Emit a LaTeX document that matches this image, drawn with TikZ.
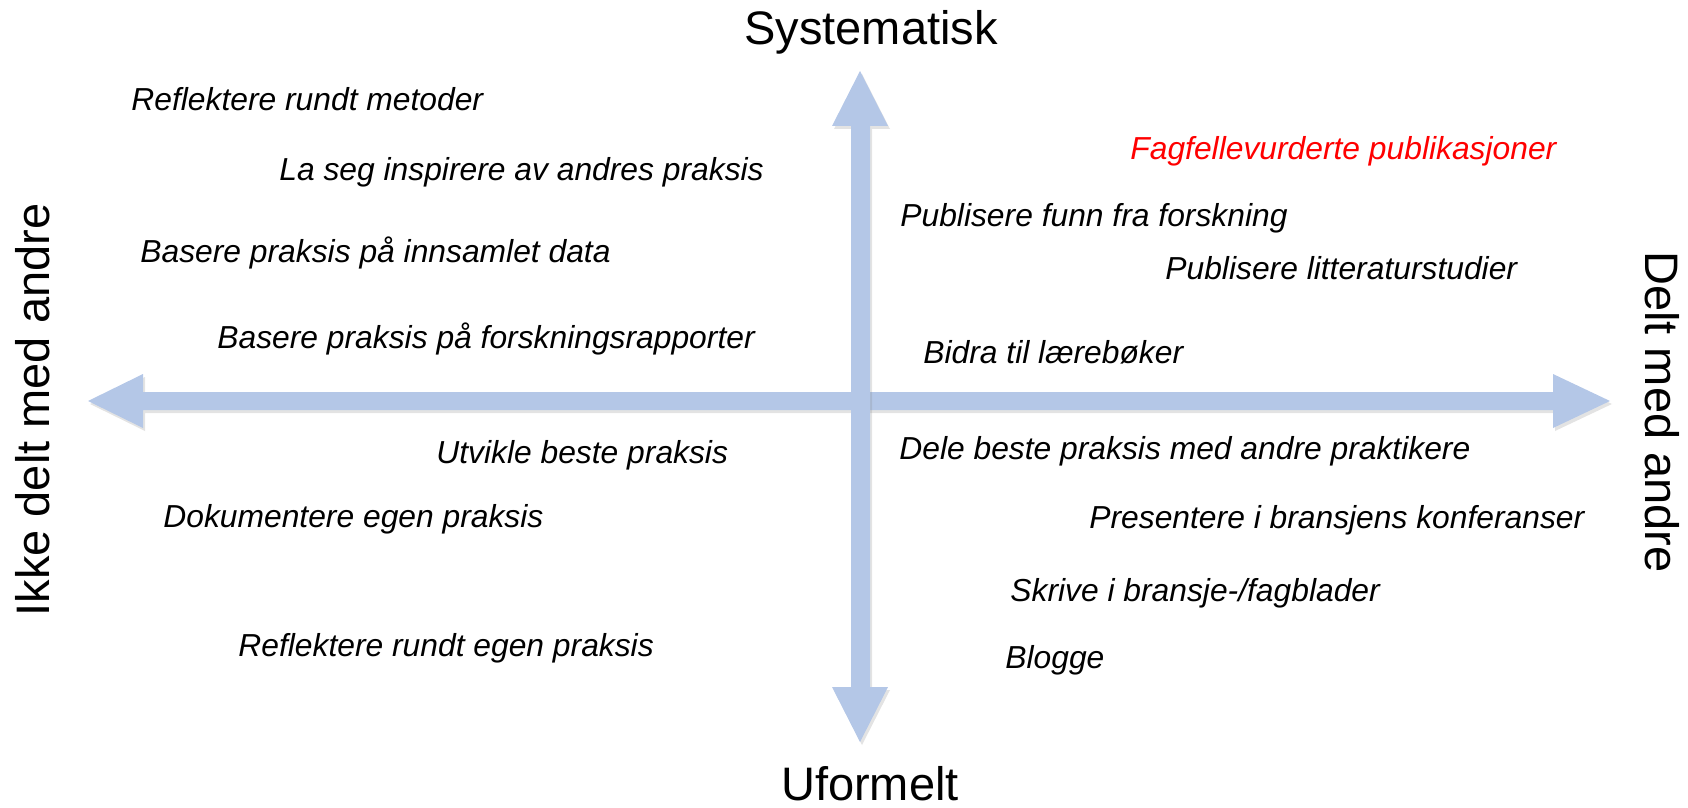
\documentclass[tikz,border=0pt]{standalone}
\usepackage{fontspec}
\setmainfont{Liberation Sans}
\usepackage{tikz}
\usetikzlibrary{shadows}

\definecolor{axisblue}{HTML}{B4C7E7}
\definecolor{pubred}{HTML}{FF0000}

\tikzset{
  axis/.style={fill=axisblue, drop shadow={shadow xshift=1pt, shadow yshift=-1.5pt, opacity=0.22}},
  pole/.style={font=\fontsize{23.5}{28}\selectfont, inner sep=0},
  item/.style={font=\fontsize{15.9}{19}\selectfont\itshape, inner sep=0, anchor=base west}
}

\begin{document}
\begin{tikzpicture}[x=0.5pt,y=-0.5pt]
\useasboundingbox (0,0) rectangle (1688,808);
\fill[axis] (88,401) -- (143,374) -- (143,392) -- (1553,392) -- (1553,374) -- (1610,401)
  -- (1553,428) -- (1553,410) -- (143,410) -- (143,428) -- cycle;
\fill[axis] (860,71) -- (888,126) -- (870,126) -- (870,687) -- (888,687) -- (860,742)
  -- (832,687) -- (851,687) -- (851,126) -- (832,126) -- cycle;

\node[pole, anchor=base] (syst) at (871,45) {Systematisk};
\node[pole, anchor=base] (uform) at (870,800) {Uformelt};
\node[pole, rotate=90] (ikke) at (33,410) {Ikke delt med andre};
\node[pole, rotate=-90] (delt) at (1662,412) {Delt med andre};

\node[item] (refmet) at (131,111) {Reflektere rundt metoder};
\node[item] (inspir) at (279,181) {La seg inspirere av andres praksis};
\node[item] (innsaml) at (140,263) {Basere praksis på innsamlet data};
\node[item] (forskrap) at (217,348) {Basere praksis på forskningsrapporter};
\node[item] (utvikle) at (436,463) {Utvikle beste praksis};
\node[item] (dokument) at (163,527) {Dokumentere egen praksis};
\node[item] (refegen) at (238,656) {Reflektere rundt egen praksis};

\node[item, text=pubred] (fagfelle) at (1130,160) {Fagfellevurderte publikasjoner};
\node[item] (funn) at (900,227) {Publisere funn fra forskning};
\node[item] (littstud) at (1165,279) {Publisere litteraturstudier};
\node[item] (laerebok) at (923,363) {Bidra til lærebøker};
\node[item] (dele) at (899,459) {Dele beste praksis med andre praktikere};
\node[item] (konf) at (1089,528) {Presentere i bransjens konferanser};
\node[item] (fagblad) at (1010,601) {Skrive i bransje-/fagblader};
\node[item] (blogg) at (1005,668) {Blogge};
\end{tikzpicture}
\end{document}
